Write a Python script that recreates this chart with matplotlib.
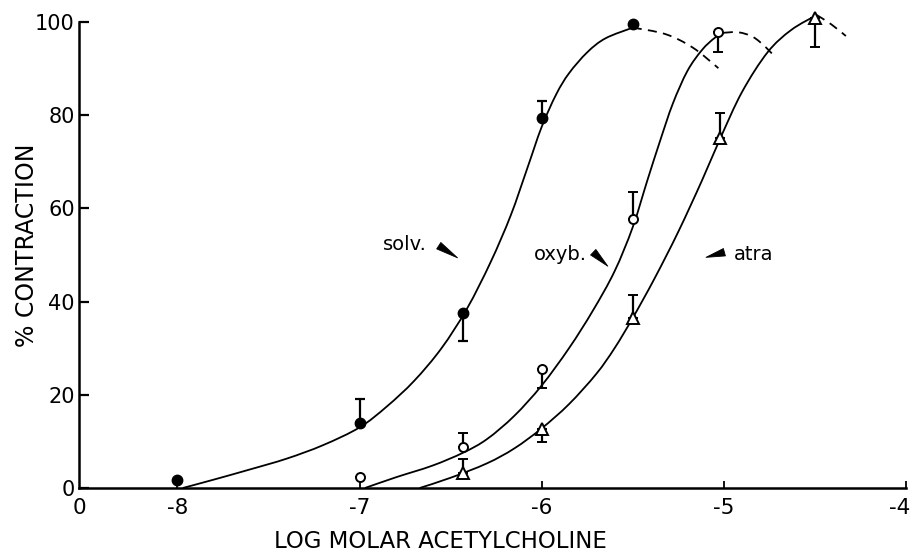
import matplotlib
matplotlib.use("Agg")
import matplotlib.pyplot as plt
import matplotlib.transforms as mtransforms
import numpy as np
from matplotlib.path import Path
from matplotlib.patches import PathPatch

# ---------------- data ----------------
x_ticks = [-8.54, -8, -7, -6, -5, -4]
x_tick_labels = ["0", "-8", "-7", "-6", "-5", "-4"]
y_ticks = [0, 20, 40, 60, 80, 100]

# measured points
solv_x = [-8.0, -7.0, -6.43, -6.0, -5.5]
solv_y = [1.7, 14.0, 37.5, 79.5, 99.5]
solv_err_lo = [0, 0, 6.0, 0, 0]
solv_err_hi = [0, 5.0, 0, 3.5, 0]

oxyb_x = [-7.0, -6.43, -6.0, -5.5, -5.03]
oxyb_y = [2.4, 8.7, 25.5, 57.7, 97.8]
oxyb_err_lo = [0, 0, 4.0, 0, 4.2]
oxyb_err_hi = [0, 3.0, 0, 5.8, 0]

atro_x = [-6.43, -6.0, -5.5, -5.02, -4.5]
atro_y = [3.2, 12.6, 36.5, 75.1, 100.9]
atro_err_lo = [0, 2.7, 0, 0, 6.3]
atro_err_hi = [3.0, 0, 4.9, 5.4, 0]

# hand-drawn fitted curves (solid)
solv_cx = [-7.97, -7.8, -7.6, -7.4, -7.2, -7.0, -6.85, -6.7, -6.55, -6.41, -6.28,
           -6.17, -6.08, -6.0, -5.92, -5.85, -5.75, -5.65, -5.5]
solv_cy = [0, 1.8, 4.0, 6.3, 9.2, 13.0, 17.5, 23.0, 30.0, 38.5, 48.5,
           58.5, 68.5, 77.5, 84.5, 89.0, 93.5, 96.5, 98.8]
oxyb_cx = [-6.97, -6.8, -6.6, -6.43, -6.3, -6.15, -6.0, -5.85, -5.72, -5.6, -5.5,
           -5.42, -5.35, -5.28, -5.2, -5.12, -5.05, -5.0]
oxyb_cy = [0, 2.3, 4.8, 7.6, 10.5, 15.5, 22.0, 30.0, 38.0, 46.5, 56.0,
           66.0, 74.5, 82.5, 89.5, 94.0, 96.6, 97.6]
atro_cx = [-6.67, -6.5, -6.3, -6.15, -6.0, -5.85, -5.7, -5.6, -5.5, -5.38, -5.25,
           -5.12, -5.02, -4.9, -4.76, -4.63, -4.49]
atro_cy = [0, 2.2, 5.3, 8.5, 12.8, 18.0, 24.5, 30.0, 36.5, 45.0, 55.0,
           66.0, 75.0, 85.0, 93.5, 98.3, 101.5]

# dashed continuations
solv_dx = [-5.5, -5.32, -5.17, -5.03]
solv_dy = [98.8, 97.4, 94.5, 90.1]
oxyb_dx = [-5.0, -4.92, -4.84, -4.77, -4.72]
oxyb_dy = [97.7, 97.8, 96.8, 94.6, 92.5]
atro_dx = [-4.49, -4.41, -4.33]
atro_dy = [101.5, 99.5, 97.0]

labels = ["solv.", "oxyb.", "atra"]
label_x = [-6.873, -6.041, -4.947]
label_y = [51.1, 48.9, 48.9]
arrow_tail = [(-6.565, 52.0), (-5.717, 50.6), (-4.997, 50.6)]
arrow_tip = [(-6.462, 49.4), (-5.637, 47.6), (-5.098, 49.5)]


# ---------------- helpers ----------------
def smooth_path(xs, ys):
    pts = np.column_stack([xs, ys]).astype(float)
    n = len(pts)
    verts = [pts[0]]
    codes = [Path.MOVETO]
    for i in range(n - 1):
        p0 = pts[i - 1] if i > 0 else pts[i]
        p1 = pts[i]
        p2 = pts[i + 1]
        p3 = pts[i + 2] if i + 2 < n else pts[i + 1]
        c1 = p1 + (p2 - p0) / 6.0
        c2 = p2 - (p3 - p1) / 6.0
        verts += [c1, c2, p2]
        codes += [Path.CURVE4] * 3
    return Path(verts, codes)


fig = plt.figure(figsize=(9.15, 5.55), dpi=100)
ax = fig.add_axes([79 / 915, 1 - 488 / 555, (906 - 79) / 915, 484.6 / 555])
ax.set_xlim(-8.54, -4.0)
ax.set_ylim(0, 104)

for cx, cy in [(solv_cx, solv_cy), (oxyb_cx, oxyb_cy), (atro_cx, atro_cy)]:
    ax.add_patch(PathPatch(smooth_path(cx, cy), fill=False, lw=1.3,
                           edgecolor="black", clip_on=False))
for dx, dy in [(solv_dx, solv_dy), (oxyb_dx, oxyb_dy), (atro_dx, atro_dy)]:
    ax.add_patch(PathPatch(smooth_path(dx, dy), fill=False, lw=1.3,
                           edgecolor="black", linestyle=(0, (5, 3.5)),
                           clip_on=False))

common = dict(ecolor="black", elinewidth=1.6, capsize=3.5, capthick=1.6,
              linestyle="none", clip_on=False, zorder=3)
ax.errorbar(solv_x, solv_y, yerr=[solv_err_lo, solv_err_hi], marker="o",
            ms=7.5, mfc="black", mec="black", **common)
ax.errorbar(oxyb_x, oxyb_y, yerr=[oxyb_err_lo, oxyb_err_hi], marker="o",
            ms=6.5, mfc="white", mec="black", mew=1.4, **common)
ax.errorbar(atro_x, atro_y, yerr=[atro_err_lo, atro_err_hi], marker="^",
            ms=8, mfc="white", mec="black", mew=1.4, **common)

for t, x, y in zip(labels, label_x, label_y):
    ax.text(x, y, t, fontsize=14, ha="left", va="baseline")
for tail, tip in zip(arrow_tail, arrow_tip):
    ax.annotate("", xy=tip, xytext=tail,
                arrowprops=dict(arrowstyle="wedge,tail_width=0.55,shrink_factor=0.5",
                                fc="black", ec="black", lw=0.6,
                                shrinkA=0, shrinkB=0))

# axes styling
for s in ["top", "right"]:
    ax.spines[s].set_visible(False)
ax.spines["left"].set_bounds(0, 100)
ax.spines["left"].set_linewidth(1.8)
ax.spines["bottom"].set_linewidth(1.8)
ax.set_xticks(x_ticks)
ax.set_xticklabels(x_tick_labels)
ax.set_yticks(y_ticks)
ax.tick_params(axis="y", direction="in", length=7, width=1.6, labelsize=15, pad=3)
ax.tick_params(axis="x", direction="in", length=5, width=1.3, labelsize=15.5, pad=7)
ax.xaxis.get_major_ticks()[0].tick1line.set_visible(False)
last = ax.get_xticklabels()[-1]
last.set_transform(last.get_transform() +
                   mtransforms.ScaledTranslation(-6 / 100, 0, fig.dpi_scale_trans))

fig.text(440 / 915, 2 / 555, "LOG MOLAR ACETYLCHOLINE", fontsize=16.5,
         ha="center", va="bottom")
fig.text(27 / 915, 1 - 245 / 555, "% CONTRACTION", fontsize=17, rotation=90,
         ha="center", va="center")

fig.savefig("out.png", dpi=100)
